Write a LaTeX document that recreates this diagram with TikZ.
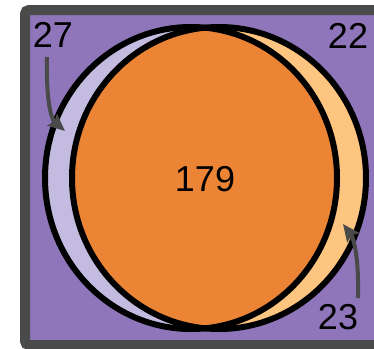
\documentclass[tikz,border=0pt]{standalone}
\usepackage{fontspec}
\setmainfont{Liberation Sans}
\usetikzlibrary{arrows.meta}
\definecolor{bgpurple}{HTML}{8F76BA}
\definecolor{framegrey}{HTML}{4A4A4A}
\definecolor{lavender}{HTML}{C4BCE0}
\definecolor{lightorange}{HTML}{FDC580}
\definecolor{midorange}{HTML}{EC8435}
\tikzset{
  lbl/.style={inner sep=0pt, font=\fontsize{36}{40}\selectfont, text=black},
  pointer/.style={draw=framegrey, line width=4pt, -{Stealth[length=17pt,width=15pt,inset=3pt]}},
  outline/.style={draw=black, line width=6pt}
}
\begin{document}
\begin{tikzpicture}[x=1pt,y=-1pt]
\useasboundingbox (0,0) rectangle (374,348);
\begin{scope}
\clip (0,0) rectangle (374,348);
\draw[line width=10pt, draw=framegrey, fill=bgpurple, rounded corners=4pt] (25,10) rectangle (380,345);
\fill[lavender] (191,178) ellipse [x radius=146pt, y radius=151pt];
\fill[lightorange] (219,178) ellipse [x radius=147pt, y radius=151pt];
\begin{scope}
\clip (191,178) ellipse [x radius=146pt, y radius=151pt];
\fill[midorange] (219,178) ellipse [x radius=147pt, y radius=151pt];
\end{scope}
\draw[outline] (191,178) ellipse [x radius=146pt, y radius=151pt];
\draw[outline] (219,178) ellipse [x radius=147pt, y radius=151pt];
\end{scope}
\node[lbl] (n27) at (53,35) {27};
\node[lbl] (n22) at (348,36) {22};
\node[lbl] (n23) at (338,317) {23};
\node[lbl] (n179) at (205,179) {179};
\coordinate (s27) at (47,57);
\coordinate (t27) at (65,131);
\coordinate (s23) at (358,298);
\coordinate (t23) at (343,224);
\draw[pointer] (s27) .. controls (46,95) and (50,118) .. (t27);
\draw[pointer] (s23) .. controls (359,265) and (355,240) .. (t23);
\end{tikzpicture}
\end{document}
